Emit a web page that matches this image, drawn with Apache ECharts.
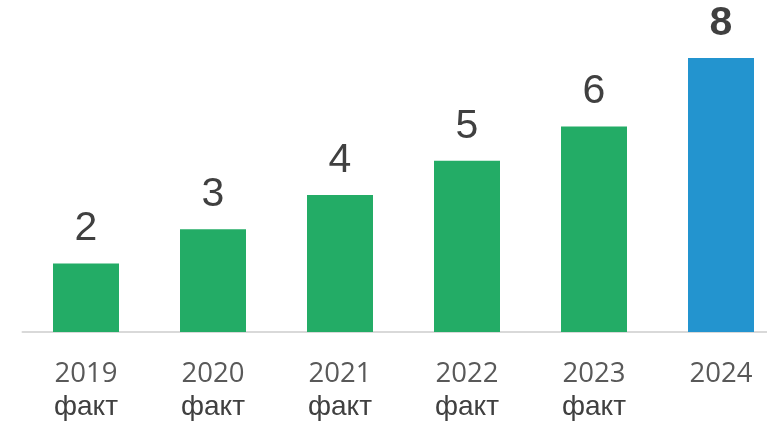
<!DOCTYPE html>
<html><head><meta charset="utf-8">
<script src="https://cdn.jsdelivr.net/npm/echarts@6/dist/echarts.min.js"></script>
<style>html,body{margin:0;padding:0;background:#fff}#c{width:767px;height:422px}</style>
</head><body><div id="c"></div>
<script>
const years = ['2019','2020','2021','2022','2023','2024'];
const subLabels = ['факт','факт','факт','факт','факт',''];
const values = [2,3,4,5,6,8];
const colors = ['#23AC66','#23AC66','#23AC66','#23AC66','#23AC66','#2394CF'];
const bold = [false,false,false,false,false,true];

const chart = echarts.init(document.getElementById('c'));
chart.setOption({
  animation:false,
  grid:{left:22.5, right:-17.5, top:58, bottom:90, containLabel:false, outerBoundsMode:'none'},
  xAxis:{type:'category', data:years,
    axisLine:{lineStyle:{color:'#d9d9d9', width:2}},
    axisTick:{show:false},
    axisLabel:{margin:26, interval:0, hideOverlap:false,
      formatter:(v,i)=> subLabels[i] ? '{y|'+v+'}\n{f|'+subLabels[i]+'}' : '{y|'+v+'}',
      rich:{
        y:{fontFamily:'Open Sans', fontSize:27.5, color:'#595959', lineHeight:32},
        f:{fontFamily:'Liberation Sans', fontSize:28, color:'#404040', lineHeight:34}
      }}
  },
  yAxis:{type:'value', min:0, max:8, show:false, splitLine:{show:false}},
  series:[{type:'bar', barWidth:66,
    data: values.map((v,i)=>({value:v, itemStyle:{color:colors[i]},
      label:{fontWeight: bold[i]?'bold':'normal'}})),
    label:{show:true, position:'top', distance:14, fontFamily:'Liberation Sans', fontSize:41, color:'#404040'}
  }]
});
</script></body></html>
